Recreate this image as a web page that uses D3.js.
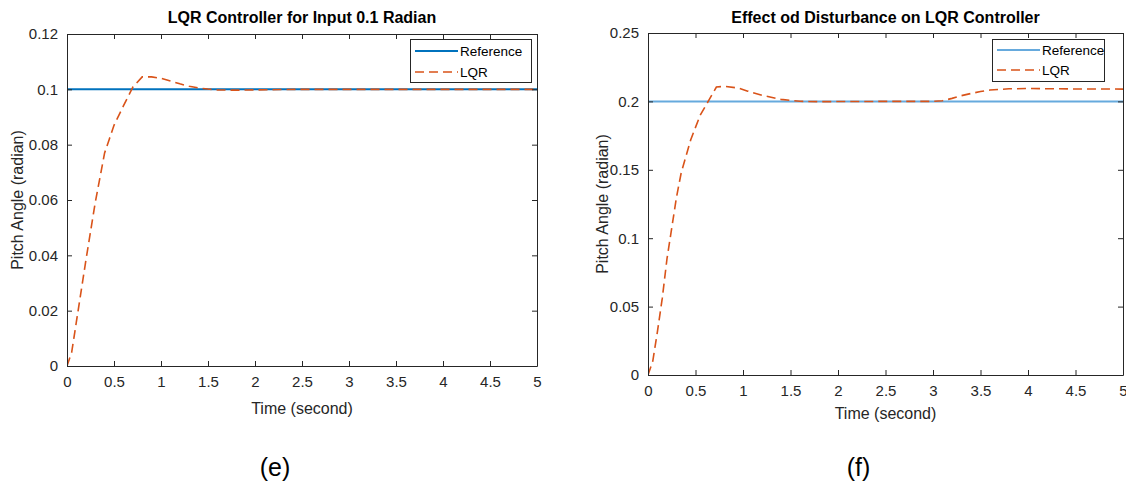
<!DOCTYPE html>
<html><head><meta charset="utf-8">
<script src="https://cdn.jsdelivr.net/npm/d3@7"></script>
<style>
body{margin:0;background:#fff;}
svg{display:block;font-family:"Liberation Sans",Arial,sans-serif;}
</style></head>
<body><svg id="c" width="1126" height="484"></svg>
<script>
// ---- data ----
const xTicks = [0,0.5,1,1.5,2,2.5,3,3.5,4,4.5,5];
const xTickLabels = ["0","0.5","1","1.5","2","2.5","3","3.5","4","4.5","5"];
const yTicksE = [0,0.02,0.04,0.06,0.08,0.1,0.12];
const yTickLabelsE = ["0","0.02","0.04","0.06","0.08","0.1","0.12"];
const yTicksF = [0,0.05,0.1,0.15,0.2,0.25];
const yTickLabelsF = ["0","0.05","0.1","0.15","0.2","0.25"];

const timeE = [0,0.05,0.1,0.2,0.3,0.4,0.45,0.5,0.6,0.7,0.8,0.9,1.0,1.1,1.2,1.3,1.4,1.5,1.6,1.8,2.0,2.5,3,3.5,4,4.5,5];
const lqrE  = [0,0.005,0.016,0.038,0.059,0.077,0.082,0.087,0.094,0.1008,0.1045,0.1045,0.1040,0.1030,0.1020,0.1011,0.1005,0.1001,0.0998,0.0997,0.0998,0.1,0.1,0.1,0.1,0.1,0.1];
const refE  = [0.1,0.1];
const refTimeE = [0,5];

const timeF = [0,0.05,0.1,0.15,0.2,0.3,0.35,0.45,0.55,0.6,0.65,0.72,0.8,0.95,1.05,1.2,1.4,1.6,1.8,2.0,2.5,3.0,3.1,3.2,3.3,3.4,3.5,3.6,3.8,4.0,4.5,5];
const lqrF  = [0,0.01,0.032,0.056,0.085,0.13,0.148,0.172,0.19,0.196,0.202,0.2105,0.211,0.2098,0.2075,0.2045,0.2015,0.2001,0.1998,0.1999,0.2,0.2,0.2005,0.2022,0.2042,0.2058,0.2072,0.2083,0.2092,0.2094,0.2091,0.209];
const refF  = [0.2,0.2];
const refTimeF = [0,5];

const panels = [
  {title:"LQR Controller for Input 0.1 Radian", tag:"(e)", x0:67, x1:537, y0:34, y1:366,
   ymax:0.12, yTicks:yTicksE, yLabels:yTickLabelsE, time:timeE, lqr:lqrE, refT:refTimeE, ref:refE,
   refColor:"#0072BD", refWidth:2,
   legend:{x:410,y:39,w:121,h:43,row1:51,row2:72},
   ylabX:18, xlabY:414, tagY:476},
  {title:"Effect od Disturbance on LQR Controller", tag:"(f)", x0:648, x1:1123, y0:33, y1:375,
   ymax:0.25, yTicks:yTicksF, yLabels:yTickLabelsF, time:timeF, lqr:lqrF, refT:refTimeF, ref:refF,
   refColor:"#66AADD", refWidth:2,
   legend:{x:992,y:39,w:112,h:42,row1:50,row2:70},
   ylabX:603, xlabY:419, tagY:476}
];

const svg = d3.select("#c");
const axisColor = "#262626";
const lqrColor = "#D95319";

panels.forEach(p => {
  const x = d3.scaleLinear().domain([0,5]).range([p.x0,p.x1]);
  const y = d3.scaleLinear().domain([0,p.ymax]).range([p.y1,p.y0]);
  const g = svg.append("g");

  const cid = "clip"+p.tag.replace(/\W/g,"");
  svg.append("clipPath").attr("id",cid).append("rect")
    .attr("x",p.x0).attr("y",p.y0).attr("width",p.x1-p.x0).attr("height",p.y1-p.y0);

  const line = d3.line().x(d=>x(d[0])).y(d=>y(d[1]));
  g.append("path").datum(p.refT.map((t,i)=>[t,p.ref[i]]))
    .attr("d",line).attr("fill","none").attr("stroke",p.refColor).attr("stroke-width",p.refWidth)
    .attr("clip-path",`url(#${cid})`);
  g.append("path").datum(p.time.map((t,i)=>[t,p.lqr[i]]))
    .attr("d",line).attr("fill","none").attr("stroke",lqrColor).attr("stroke-width",1.6)
    .attr("stroke-dasharray","9,5").attr("clip-path",`url(#${cid})`);

  const axB = d3.axisBottom(x).tickValues(xTicks).tickFormat((d,i)=>xTickLabels[i]).tickSizeInner(-5).tickSizeOuter(0).tickPadding(10);
  const axT = d3.axisTop(x).tickValues(xTicks).tickFormat("").tickSizeInner(-5).tickSizeOuter(0);
  const axL = d3.axisLeft(y).tickValues(p.yTicks).tickFormat((d,i)=>p.yLabels[i]).tickSizeInner(-5).tickSizeOuter(0).tickPadding(9);
  const axR = d3.axisRight(y).tickValues(p.yTicks).tickFormat("").tickSizeInner(-5).tickSizeOuter(0);
  const styleAx = sel => {
    sel.selectAll("path").attr("stroke",axisColor).attr("stroke-width",1);
    sel.selectAll("line").attr("stroke",axisColor).attr("stroke-width",1);
    sel.selectAll("text").attr("fill",axisColor).style("font-size","15px").style("font-family","Liberation Sans, Arial, sans-serif");
  };
  g.append("g").attr("transform",`translate(0,${p.y1})`).call(axB).call(styleAx);
  g.append("g").attr("transform",`translate(0,${p.y0})`).call(axT).call(styleAx);
  g.append("g").attr("transform",`translate(${p.x0},0)`).call(axL).call(styleAx);
  g.append("g").attr("transform",`translate(${p.x1},0)`).call(axR).call(styleAx);

  g.append("text").attr("x",(p.x0+p.x1)/2).attr("y",23).attr("text-anchor","middle")
    .attr("font-weight","bold").attr("font-size","16px").attr("fill","#000").text(p.title);
  g.append("text").attr("x",(p.x0+p.x1)/2).attr("y",p.xlabY).attr("text-anchor","middle")
    .attr("font-size","16px").attr("fill",axisColor).text("Time (second)");
  g.append("text").attr("transform",`translate(${p.ylabX+5},${(p.y0+p.y1)/2}) rotate(-90)`)
    .attr("text-anchor","middle").attr("font-size","16px").attr("fill",axisColor).text("Pitch Angle (radian)");
  g.append("text").attr("x",(p.x0+p.x1)/2 - 27).attr("y",p.tagY).attr("text-anchor","middle")
    .attr("font-size","25px").attr("fill","#000").text(p.tag);

  const L = p.legend;
  const lg = g.append("g");
  lg.append("rect").attr("x",L.x+0.5).attr("y",L.y+0.5).attr("width",L.w).attr("height",L.h)
    .attr("fill","#fff").attr("stroke","#262626").attr("stroke-width",1);
  lg.append("line").attr("x1",L.x+5).attr("x2",L.x+48).attr("y1",L.row1).attr("y2",L.row1)
    .attr("stroke",p.refColor).attr("stroke-width",p.refWidth);
  lg.append("line").attr("x1",L.x+5).attr("x2",L.x+48).attr("y1",L.row2).attr("y2",L.row2)
    .attr("stroke",lqrColor).attr("stroke-width",1.6).attr("stroke-dasharray","9,5");
  lg.append("text").attr("x",L.x+50).attr("y",L.row1+4.5).attr("font-size","13.5px").attr("fill","#000").text("Reference");
  lg.append("text").attr("x",L.x+50).attr("y",L.row2+4.5).attr("font-size","13.5px").attr("fill","#000").text("LQR");
});
</script></body></html>
